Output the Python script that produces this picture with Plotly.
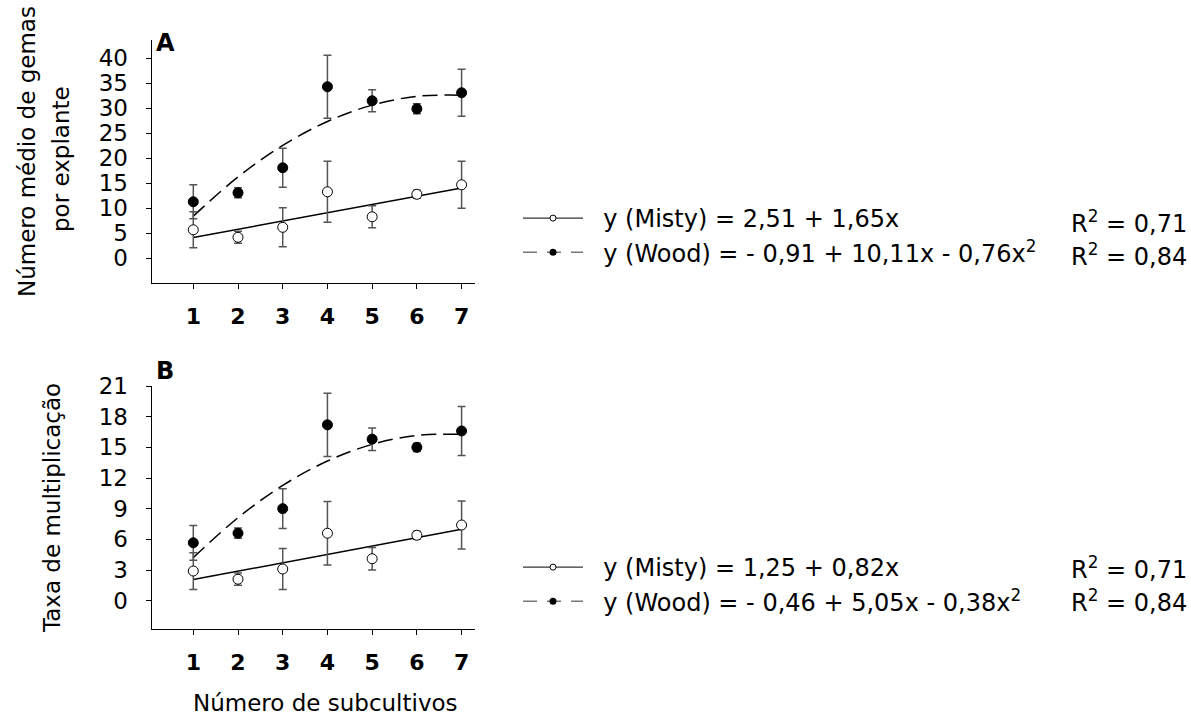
import plotly.graph_objects as go

# ---------------- data ----------------
subcultivos = [1, 2, 3, 4, 5, 6, 7]

# Panel A: number of buds per explant
misty_a = [5.7, 4.2, 6.2, 13.3, 8.3, 12.8, 14.7]
misty_a_err = [3.6, 1.2, 3.9, 6.1, 2.2, 0.8, 4.7]
wood_a = [11.3, 13.1, 18.1, 34.3, 31.5, 29.9, 33.1]
wood_a_err = [3.4, 1.0, 3.9, 6.3, 2.2, 1.0, 4.7]
misty_a_fit = [4.16, 5.81, 7.46, 9.11, 10.76, 12.41, 14.06]
wood_a_fit = [8.44, 16.27, 22.58, 27.37, 30.64, 32.39, 32.62]

# Panel B: multiplication rate
misty_b = [2.9, 2.1, 3.1, 6.6, 4.1, 6.4, 7.4]
misty_b_err = [1.8, 0.6, 2.0, 3.1, 1.1, 0.4, 2.35]
wood_b = [5.66, 6.6, 9.0, 17.2, 15.8, 15.0, 16.6]
wood_b_err = [1.7, 0.5, 1.95, 3.1, 1.1, 0.4, 2.4]
misty_b_fit = [2.07, 2.89, 3.71, 4.53, 5.35, 6.17, 6.99]
wood_b_fit = [4.21, 8.12, 11.27, 13.66, 15.29, 16.16, 16.27]

ticks_a = [0, 5, 10, 15, 20, 25, 30, 35, 40]
ticks_b = [0, 3, 6, 9, 12, 15, 18, 21]

leg_a = ["y (Misty) = 2,51 + 1,65x", "y (Wood) = - 0,91 + 10,11x - 0,76x<sup>2</sup>"]
leg_b = ["y (Misty) = 1,25 + 0,82x", "y (Wood) = - 0,46 + 5,05x - 0,38x<sup>2</sup>"]
r2_text = ["R<sup>2</sup> = 0,71", "R<sup>2</sup> = 0,84"]

FONT = "DejaVu Sans"
W, H = 1191, 724
NB = "\u00a0\u00a0"

fig = go.Figure()


def add_panel(xa, ya, misty, merr, wood, werr, mfit, wfit):
    fig.add_trace(go.Scatter(x=subcultivos, y=mfit, mode="lines", xaxis=xa, yaxis=ya,
                             line=dict(color="black", width=1.5), showlegend=False,
                             hoverinfo="skip"))
    fig.add_trace(go.Scatter(x=subcultivos, y=wfit, mode="lines", xaxis=xa, yaxis=ya,
                             line=dict(color="black", width=1.5, dash="15px,7px",
                                       shape="spline"),
                             showlegend=False, hoverinfo="skip"))
    fig.add_trace(go.Scatter(x=subcultivos, y=misty, mode="markers", xaxis=xa, yaxis=ya,
                             marker=dict(size=10, color="white",
                                         line=dict(color="black", width=1)),
                             error_y=dict(type="data", array=merr, color="#555555",
                                          thickness=1.5, width=4),
                             showlegend=False))
    fig.add_trace(go.Scatter(x=subcultivos, y=wood, mode="markers", xaxis=xa, yaxis=ya,
                             marker=dict(size=10, color="black",
                                         line=dict(color="black", width=1)),
                             error_y=dict(type="data", array=werr, color="#555555",
                                          thickness=1.5, width=4),
                             showlegend=False))


add_panel("x", "y", misty_a, misty_a_err, wood_a, wood_a_err, misty_a_fit, wood_a_fit)
add_panel("x2", "y2", misty_b, misty_b_err, wood_b, wood_b_err, misty_b_fit, wood_b_fit)

# legend entries
for names, lg in ((leg_a, "legend"), (leg_b, "legend2")):
    fig.add_trace(go.Scatter(x=[None], y=[None], mode="lines+markers", name=NB + names[0],
                             legend=lg, line=dict(color="black", width=1),
                             marker=dict(size=6, color="white",
                                         line=dict(color="black", width=1))))
    fig.add_trace(go.Scatter(x=[None], y=[None], mode="lines+markers", name=NB + names[1],
                             legend=lg, line=dict(color="#777777", width=1.5, dash="14px,10px"),
                             marker=dict(size=7, color="black")))

axis_common = dict(showline=True, linecolor="black", linewidth=1.3, ticks="outside",
                   ticklen=5, tickwidth=1.3, tickcolor="black", showgrid=False,
                   zeroline=False, automargin=False)
xdom = [151.7 / W, 475 / W]
xfont = dict(family=FONT, size=22, color="black", weight="bold")
yfont = dict(family=FONT, size=23, color="black")

fig.update_layout(
    template="none",
    width=W, height=H,
    margin=dict(l=0, r=0, t=0, b=0, autoexpand=False),
    paper_bgcolor="white", plot_bgcolor="white",
    font=dict(family=FONT, size=24, color="black"),
    xaxis=dict(domain=xdom, range=[0.07, 7.3], tickvals=subcultivos, tickfont=xfont,
               anchor="y", ticklabelstandoff=8, **axis_common),
    yaxis=dict(domain=[1 - 283.3 / H, 1 - 40 / H], range=[-5, 43.66], tickvals=ticks_a,
               tickfont=yfont, anchor="x", ticklabelstandoff=13, **axis_common),
    xaxis2=dict(domain=xdom, range=[0.07, 7.3], tickvals=subcultivos, tickfont=xfont,
                anchor="y2", ticklabelstandoff=8, **axis_common),
    yaxis2=dict(domain=[1 - 629.3 / H, 1 - 386 / H], range=[-2.8, 21], tickvals=ticks_b,
                tickfont=yfont, anchor="x2", ticklabelstandoff=13, **axis_common),
    legend=dict(x=518 / W, y=1 - 196 / H, xanchor="left", yanchor="top",
                font=dict(family=FONT, size=24, color="black"), itemwidth=60,
                bgcolor="rgba(0,0,0,0)", tracegroupgap=0),
    legend2=dict(x=518 / W, y=1 - 545 / H, xanchor="left", yanchor="top",
                 font=dict(family=FONT, size=24, color="black"), itemwidth=60,
                 bgcolor="rgba(0,0,0,0)", tracegroupgap=0),
    showlegend=True,
)

ann = []
common_ann = dict(xref="paper", yref="paper", showarrow=False, xanchor="center",
                  yanchor="middle")
# panel letters
ann.append(dict(text="<b>A</b>", x=166 / W, y=1 - 43 / H,
                font=dict(family=FONT, size=24, color="black"), **common_ann))
ann.append(dict(text="<b>B</b>", x=165 / W, y=1 - 371 / H,
                font=dict(family=FONT, size=24, color="black"), **common_ann))
# y titles
ann.append(dict(text="Número médio de gemas", x=27 / W, y=1 - 152 / H, textangle=-90,
                font=dict(family=FONT, size=23, color="black"), **common_ann))
ann.append(dict(text="por explante", x=61 / W, y=1 - 159 / H, textangle=-90,
                font=dict(family=FONT, size=23, color="black"), **common_ann))
ann.append(dict(text="Taxa de multiplicação", x=52 / W, y=1 - 508 / H, textangle=-90,
                font=dict(family=FONT, size=23, color="black"), **common_ann))
# x title
ann.append(dict(text="Número de subcultivos", x=325 / W, y=1 - 703 / H,
                font=dict(family=FONT, size=23, color="black"), **common_ann))
# R^2 labels
for yc, txt in zip([222, 255, 568, 601], r2_text * 2):
    ann.append(dict(text=txt, x=1069 / W, y=1 - yc / H, xref="paper", yref="paper",
                    xanchor="left", yanchor="middle", showarrow=False,
                    font=dict(family=FONT, size=24, color="black")))
fig.update_layout(annotations=ann)

fig.write_html("out.html", config={"displayModeBar": False},
               post_script="document.body.style.margin='0px';")
